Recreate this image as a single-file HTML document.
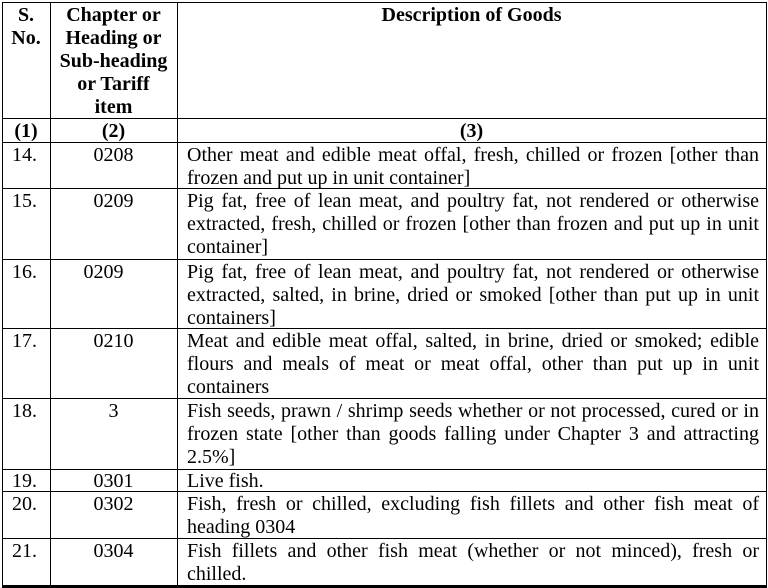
<!DOCTYPE html>
<html>
<head>
<meta charset="utf-8">
<style>
html,body{margin:0;padding:0;background:#fff;}
body{width:768px;height:588px;position:relative;overflow:hidden;font-family:"Liberation Serif","Times New Roman",serif;font-size:20px;line-height:23px;color:#000;}
.h{position:absolute;height:1px;background:#000;left:2px;width:765px;}
.v{position:absolute;width:1px;background:#000;top:2px;height:586px;}
.t{position:absolute;white-space:nowrap;}
.c1{left:12px;}
.c2{left:50px;width:127px;text-align:center;}
.c3{left:187px;width:572px;}
.b{font-weight:bold;}
.j{text-align:justify;text-align-last:justify;}
</style>
</head>
<body>
<div class="h" style="top:2px"></div>
<div class="h" style="top:118px"></div>
<div class="h" style="top:142px"></div>
<div class="h" style="top:188px"></div>
<div class="h" style="top:259px"></div>
<div class="h" style="top:328px"></div>
<div class="h" style="top:398px"></div>
<div class="h" style="top:469px"></div>
<div class="h" style="top:491px"></div>
<div class="h" style="top:538px"></div>
<div class="h" style="top:585px;height:3px"></div>
<div class="v" style="left:2px"></div>
<div class="v" style="left:50px"></div>
<div class="v" style="left:177px"></div>
<div class="v" style="left:766px"></div>

<div class="t b" style="top:4px;left:2px;width:48px;text-align:center;">S.<br>No.</div>
<div class="t b c2" style="top:4px;">Chapter or<br>Heading or<br>Sub-heading<br>or Tariff<br>item</div>
<div class="t b" style="top:4px;left:177px;width:589px;text-align:center;">Description of Goods</div>

<div class="t b" style="top:120px;left:2px;width:48px;text-align:center;">(1)</div>
<div class="t b c2" style="top:120px;">(2)</div>
<div class="t b" style="top:120px;left:177px;width:589px;text-align:center;">(3)</div>

<div class="t c1" style="top:144px">14.</div>
<div class="t c2" style="top:144px">0208</div>
<div class="c3" style="position:absolute;top:144px">
<div class="j">Other meat and edible meat offal, fresh, chilled or frozen [other than</div>
<div>frozen and put up in unit container]</div>
</div>

<div class="t c1" style="top:190px">15.</div>
<div class="t c2" style="top:190px">0209</div>
<div class="c3" style="position:absolute;top:190px">
<div class="j">Pig fat, free of lean meat, and poultry fat, not rendered or otherwise</div>
<div class="j">extracted, fresh, chilled or frozen [other than frozen and put up in unit</div>
<div>container]</div>
</div>

<div class="t c1" style="top:261px">16.</div>
<div class="t c2" style="top:261px;padding-right:20px;width:107px;">0209</div>
<div class="c3" style="position:absolute;top:261px">
<div class="j">Pig fat, free of lean meat, and poultry fat, not rendered or otherwise</div>
<div class="j">extracted, salted, in brine, dried or smoked [other than put up in unit</div>
<div>containers]</div>
</div>

<div class="t c1" style="top:330px">17.</div>
<div class="t c2" style="top:330px">0210</div>
<div class="c3" style="position:absolute;top:330px">
<div class="j">Meat and edible meat offal, salted, in brine, dried or smoked; edible</div>
<div class="j">flours and meals of meat or meat offal, other than put up in unit</div>
<div>containers</div>
</div>

<div class="t c1" style="top:400px">18.</div>
<div class="t c2" style="top:400px">3</div>
<div class="c3" style="position:absolute;top:400px">
<div class="j">Fish seeds, prawn / shrimp seeds whether or not processed, cured or in</div>
<div class="j">frozen state [other than goods falling under Chapter 3 and attracting</div>
<div>2.5%]</div>
</div>

<div class="t c1" style="top:470px">19.</div>
<div class="t c2" style="top:470px">0301</div>
<div class="c3" style="position:absolute;top:470px">
<div>Live fish.</div>
</div>

<div class="t c1" style="top:493px">20.</div>
<div class="t c2" style="top:493px">0302</div>
<div class="c3" style="position:absolute;top:493px">
<div class="j">Fish, fresh or chilled, excluding fish fillets and other fish meat of</div>
<div>heading 0304</div>
</div>

<div class="t c1" style="top:540px">21.</div>
<div class="t c2" style="top:540px">0304</div>
<div class="c3" style="position:absolute;top:540px">
<div class="j">Fish fillets and other fish meat (whether or not minced), fresh or</div>
<div>chilled.</div>
</div>
</body>
</html>
